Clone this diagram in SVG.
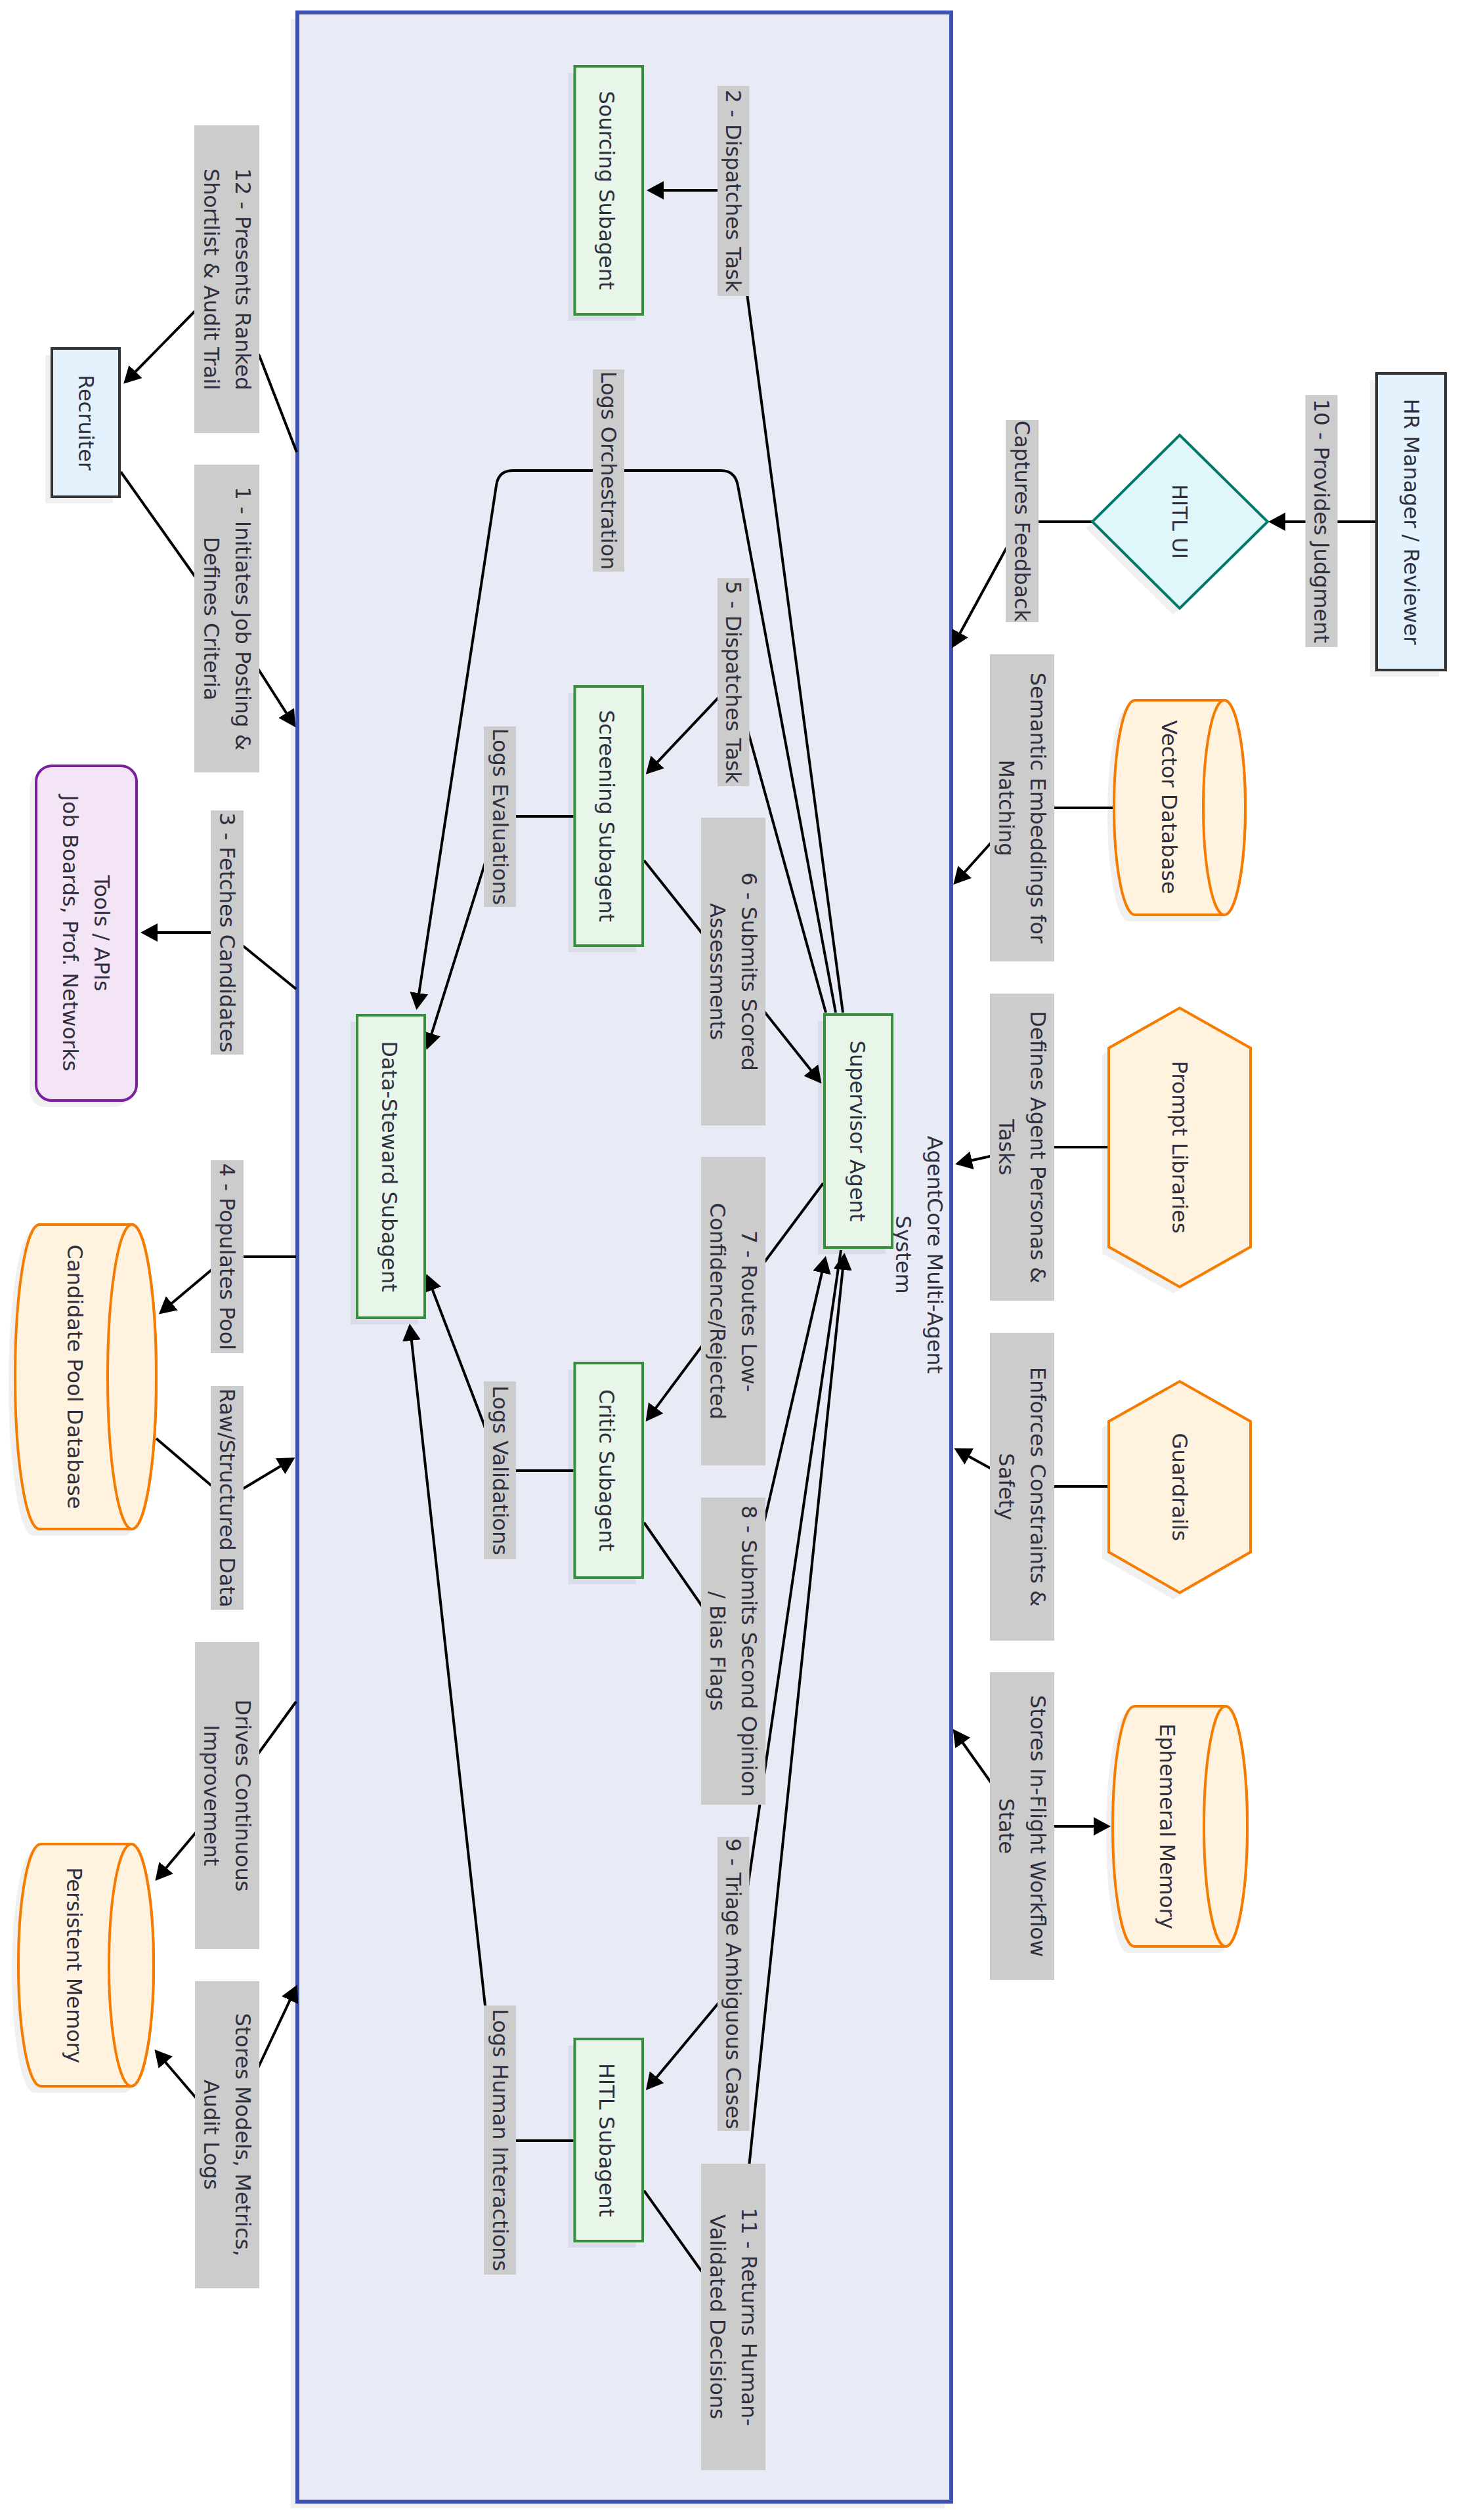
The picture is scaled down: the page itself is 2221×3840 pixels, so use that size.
<svg xmlns="http://www.w3.org/2000/svg" width="2221" height="3840" viewBox="0 0 2221 3840">
<style>
  text { font-family: "DejaVu Sans", Verdana, sans-serif; font-size: 32px; fill: #2f2f3f; text-anchor: middle; dominant-baseline: central; }
  .shadow { fill: #000; fill-opacity: 0.06; stroke: none; }
  .actor { fill: #E3F2FD; stroke: #333; stroke-width: 4; }
  .agent { fill: #E8F5E9; stroke: #388E3C; stroke-width: 4; }
  .store { fill: #FFF3E0; stroke: #F57C00; stroke-width: 4; }
  .ui { fill: #E0F7FA; stroke: #00796B; stroke-width: 4; }
  .tool { fill: #F3E5F5; stroke: #7B1FA2; stroke-width: 4; }
  .cluster { fill: #E8EAF6; stroke: #3F51B5; stroke-width: 6; }
  .edge { fill: none; stroke: #000; stroke-width: 4; }
  .lbl { fill: #CCCCCC; }
</style>
<defs>
  <marker id="arrow" markerUnits="userSpaceOnUse" markerWidth="26" markerHeight="28" viewBox="0 0 26 28" refX="22" refY="14" orient="auto-start-reverse">
    <path d="M0,0 L26,14 L0,28 z" fill="#000"/>
  </marker>
</defs>

<!-- container -->
<g id="agentcore">
  <rect class="shadow" x="443" y="29" width="996" height="3793"/>
  <rect class="cluster" x="453" y="19" width="996" height="3793"/>
  <text transform="rotate(90 1400 1912)" x="1400" y="1888">AgentCore Multi-Agent</text>
  <text transform="rotate(90 1400 1912)" x="1400" y="1936">System</text>
</g>

<!-- connectors -->
<g id="connectors">
  <path class="edge" d="M184,719 L296,877 L346,943 L395,1022 L448,1105" marker-end="url(#arrow)"/>
  <path class="edge" d="M452,689 L395,542 L345,470 L296,475 L191,582" marker-end="url(#arrow)"/>
  <path class="edge" d="M451,1507 L371,1442 L346,1421 L321,1421 L218,1421" marker-end="url(#arrow)"/>
  <path class="edge" d="M451,1915 L346,1915 L321,1936 L245,2000" marker-end="url(#arrow)"/>
  <path class="edge" d="M238,2192 L321,2263 L346,2270 L371,2268 L446,2223" marker-end="url(#arrow)"/>
  <path class="edge" d="M451,2593 L395,2670 L346,2736 L297,2794 L239,2863" marker-end="url(#arrow)"/>
  <path class="edge" d="M238,3126 L297,3195 L346,3250 L395,3147 L451,3028" marker-start="url(#arrow)" marker-end="url(#arrow)"/>

  <path class="edge" d="M2095,795 L1936,795" marker-end="url(#arrow)"/>
  <path class="edge" d="M1664,795 L1557,795 L1532,837 L1452,984" marker-end="url(#arrow)"/>
  <path class="edge" d="M1697,1231 L1557,1231 L1508,1286 L1455,1345" marker-end="url(#arrow)"/>
  <path class="edge" d="M1689,1748 L1557,1748 L1508,1762 L1459,1773" marker-end="url(#arrow)"/>
  <path class="edge" d="M1689,2265 L1557,2265 L1508,2237 L1457,2209" marker-end="url(#arrow)"/>
  <path class="edge" d="M1454,2638 L1508,2714 L1557,2783 L1688,2783" marker-start="url(#arrow)" marker-end="url(#arrow)"/>

  <path class="edge" d="M1284,1543 L1117,290 L989,290" marker-end="url(#arrow)"/>
  <path class="edge" d="M1258,1543 L1141.5,1122 L1117,1040 L1093,1064.5 L986.5,1177" marker-end="url(#arrow)"/>
  <path class="edge" d="M1273,1543 L1124,740 Q1120,717 1098,717 L781,717 Q759,717 756,740 L635,1535" marker-end="url(#arrow)"/>
  <path class="edge" d="M981,1311 L1249,1648" marker-end="url(#arrow)"/>
  <path class="edge" d="M1254,1803 L986,2163" marker-end="url(#arrow)"/>
  <path class="edge" d="M981,2320 L1085,2470 L1150,2380 L1257,1918" marker-end="url(#arrow)"/>
  <path class="edge" d="M1281,1905 L1141.5,2859 L1117,3023 L1093,3054 L986.5,3182" marker-end="url(#arrow)"/>
  <path class="edge" d="M981,3338 L1068,3460 L1117,3500 L1141.5,3297 L1286,1913" marker-end="url(#arrow)"/>
  <path class="edge" d="M873.5,1244 L761,1244 L737,1321 L651,1596" marker-end="url(#arrow)"/>
  <path class="edge" d="M873.5,2241 L761,2241 L737,2170 L651,1945" marker-end="url(#arrow)"/>
  <path class="edge" d="M873.5,3262 L761,3262 L739,3056 L624.5,2021" marker-end="url(#arrow)"/>
</g>

<!-- edge labels -->
<g id="edge-labels">
  <rect class="lbl" x="1988.5" y="602" width="49" height="384"/>
  <text transform="rotate(90 2013 794)" x="2013" y="794">10 - Provides Judgment</text>
  <rect class="lbl" x="1532" y="640" width="50" height="308"/>
  <text transform="rotate(90 1557 794)" x="1557" y="794">Captures Feedback</text>
  <rect class="lbl" x="1508" y="997" width="98" height="468"/>
  <text transform="rotate(90 1557 1231)" x="1557" y="1207">Semantic Embeddings for</text>
  <text transform="rotate(90 1557 1231)" x="1557" y="1255">Matching</text>
  <rect class="lbl" x="1508" y="1514" width="98" height="468"/>
  <text transform="rotate(90 1557 1748)" x="1557" y="1724">Defines Agent Personas &amp;</text>
  <text transform="rotate(90 1557 1748)" x="1557" y="1772">Tasks</text>
  <rect class="lbl" x="1508" y="2031" width="98" height="469"/>
  <text transform="rotate(90 1557 2265.5)" x="1557" y="2241.5">Enforces Constraints &amp;</text>
  <text transform="rotate(90 1557 2265.5)" x="1557" y="2289.5">Safety</text>
  <rect class="lbl" x="1508" y="2548" width="98" height="469"/>
  <text transform="rotate(90 1557 2782.5)" x="1557" y="2758.5">Stores In-Flight Workflow</text>
  <text transform="rotate(90 1557 2782.5)" x="1557" y="2806.5">State</text>

  <rect class="lbl" x="296" y="191" width="99" height="469"/>
  <text transform="rotate(90 345.5 425.5)" x="345.5" y="401.5">12 - Presents Ranked</text>
  <text transform="rotate(90 345.5 425.5)" x="345.5" y="449.5">Shortlist &amp; Audit Trail</text>
  <rect class="lbl" x="296" y="708" width="99" height="469"/>
  <text transform="rotate(90 345.5 942.5)" x="345.5" y="918.5">1 - Initiates Job Posting &amp;</text>
  <text transform="rotate(90 345.5 942.5)" x="345.5" y="966.5">Defines Criteria</text>
  <rect class="lbl" x="321" y="1235" width="50" height="372"/>
  <text transform="rotate(90 346 1421)" x="346" y="1421">3 - Fetches Candidates</text>
  <rect class="lbl" x="321" y="1768" width="50" height="294"/>
  <text transform="rotate(90 346 1915)" x="346" y="1915">4 - Populates Pool</text>
  <rect class="lbl" x="321" y="2112" width="50" height="341"/>
  <text transform="rotate(90 346 2282.5)" x="346" y="2282.5">Raw/Structured Data</text>
  <rect class="lbl" x="297" y="2502" width="98" height="468"/>
  <text transform="rotate(90 346 2736)" x="346" y="2712">Drives Continuous</text>
  <text transform="rotate(90 346 2736)" x="346" y="2760">Improvement</text>
  <rect class="lbl" x="297" y="3019" width="98" height="468"/>
  <text transform="rotate(90 346 3253)" x="346" y="3229">Stores Models, Metrics,</text>
  <text transform="rotate(90 346 3253)" x="346" y="3277">Audit Logs</text>

  <rect class="lbl" x="1093" y="131" width="48.5" height="320"/>
  <text transform="rotate(90 1117 291)" x="1117" y="291">2 - Dispatches Task</text>
  <rect class="lbl" x="903" y="563" width="48" height="308"/>
  <text transform="rotate(90 927 717)" x="927" y="717">Logs Orchestration</text>
  <rect class="lbl" x="1093" y="881" width="48.5" height="317"/>
  <text transform="rotate(90 1117 1039.5)" x="1117" y="1039.5">5 - Dispatches Task</text>
  <rect class="lbl" x="737" y="1107" width="49" height="275"/>
  <text transform="rotate(90 761.5 1244.5)" x="761.5" y="1244.5">Logs Evaluations</text>
  <rect class="lbl" x="1068" y="1246" width="98" height="469"/>
  <text transform="rotate(90 1117 1480.5)" x="1117" y="1456.5">6 - Submits Scored</text>
  <text transform="rotate(90 1117 1480.5)" x="1117" y="1504.5">Assessments</text>
  <rect class="lbl" x="1068" y="1763" width="98" height="470"/>
  <text transform="rotate(90 1117 1998)" x="1117" y="1974">7 - Routes Low-</text>
  <text transform="rotate(90 1117 1998)" x="1117" y="2022">Confidence/Rejected</text>
  <rect class="lbl" x="737" y="2105" width="49" height="271"/>
  <text transform="rotate(90 761.5 2240.5)" x="761.5" y="2240.5">Logs Validations</text>
  <rect class="lbl" x="1068" y="2282" width="98" height="468"/>
  <text transform="rotate(90 1117 2516)" x="1117" y="2492">8 - Submits Second Opinion</text>
  <text transform="rotate(90 1117 2516)" x="1117" y="2540">/ Bias Flags</text>
  <rect class="lbl" x="1093" y="2799" width="48.5" height="448"/>
  <text transform="rotate(90 1117 3023)" x="1117" y="3023">9 - Triage Ambiguous Cases</text>
  <rect class="lbl" x="737" y="3056" width="49" height="410"/>
  <text transform="rotate(90 761.5 3261)" x="761.5" y="3261">Logs Human Interactions</text>
  <rect class="lbl" x="1068" y="3297" width="98" height="467"/>
  <text transform="rotate(90 1117 3530.5)" x="1117" y="3506.5">11 - Returns Human-</text>
  <text transform="rotate(90 1117 3530.5)" x="1117" y="3554.5">Validated Decisions</text>
</g>

<!-- nodes -->
<g id="recruiter">
  <rect class="shadow" x="69" y="541" width="103" height="226"/>
  <rect class="actor" x="79" y="531" width="103" height="226"/>
  <text transform="rotate(90 131 644)" x="131" y="644">Recruiter</text>
</g>
<g id="hr-manager">
  <rect class="shadow" x="2087" y="579" width="105" height="452"/>
  <rect class="actor" x="2097" y="569" width="105" height="452"/>
  <text transform="rotate(90 2149.5 795)" x="2149.5" y="795">HR Manager / Reviewer</text>
</g>
<g id="hitl-ui">
  <polygon class="shadow" points="1787,673 1921,805 1787,937 1654,805"/>
  <polygon class="ui" points="1797,663 1931,795 1797,927 1664,795"/>
  <text transform="rotate(90 1797 795)" x="1797" y="795">HITL UI</text>
</g>
<g id="vector-db">
  <path class="shadow" d="M1855,1077 L1719,1077 A32,163.5 0 0 0 1719,1404 L1855,1404 A32,163.5 0 0 0 1855,1077 Z"/>
  <path class="store" d="M1865,1067 L1729,1067 A32,163.5 0 0 0 1729,1394 L1865,1394 A32,163.5 0 0 0 1865,1067 Z"/>
  <ellipse class="store" cx="1865" cy="1230.5" rx="32" ry="163.5"/>
  <text transform="rotate(90 1781 1230)" x="1781" y="1230">Vector Database</text>
</g>
<g id="prompt-libraries">
  <polygon class="shadow" points="1787,1546 1895,1607 1895,1910 1787,1971 1679,1910 1679,1607"/>
  <polygon class="store" points="1797,1536 1905,1597 1905,1900 1797,1961 1689,1900 1689,1597"/>
  <text transform="rotate(90 1797 1748)" x="1797" y="1748">Prompt Libraries</text>
</g>
<g id="guardrails">
  <polygon class="shadow" points="1787,2115 1895,2176 1895,2375 1787,2437 1679,2375 1679,2176"/>
  <polygon class="store" points="1797,2105 1905,2166 1905,2365 1797,2427 1689,2365 1689,2166"/>
  <text transform="rotate(90 1797 2266)" x="1797" y="2266">Guardrails</text>
</g>
<g id="ephemeral-memory">
  <path class="shadow" d="M1857,2610 L1718,2610 A33,183 0 0 0 1718,2976 L1857,2976 A33,183 0 0 0 1857,2610 Z"/>
  <path class="store" d="M1867,2600 L1728,2600 A33,183 0 0 0 1728,2966 L1867,2966 A33,183 0 0 0 1867,2600 Z"/>
  <ellipse class="store" cx="1867" cy="2783" rx="33" ry="183"/>
  <text transform="rotate(90 1778 2783)" x="1778" y="2783">Ephemeral Memory</text>
</g>
<g id="tools-apis">
  <rect class="shadow" x="45" y="1177" width="153" height="510" rx="24" ry="24"/>
  <rect class="tool" x="55" y="1167" width="153" height="510" rx="24" ry="24"/>
  <text transform="rotate(90 131 1422)" x="131" y="1398">Tools / APIs</text>
  <text transform="rotate(90 131 1422)" x="131" y="1446">Job Boards, Prof. Networks</text>
</g>
<g id="candidate-pool-db">
  <path class="shadow" d="M191,1876 L50,1876 A37,232 0 0 0 50,2340 L191,2340 A37,232 0 0 0 191,1876 Z"/>
  <path class="store" d="M201,1866 L60,1866 A37,232 0 0 0 60,2330 L201,2330 A37,232 0 0 0 201,1866 Z"/>
  <ellipse class="store" cx="201" cy="2098" rx="37" ry="232"/>
  <text transform="rotate(90 114 2098)" x="114" y="2098">Candidate Pool Database</text>
</g>
<g id="persistent-memory">
  <path class="shadow" d="M190,2820 L52,2820 A34,184.5 0 0 0 52,3189 L190,3189 A34,184.5 0 0 0 190,2820 Z"/>
  <path class="store" d="M200,2810 L62,2810 A34,184.5 0 0 0 62,3179 L200,3179 A34,184.5 0 0 0 200,2810 Z"/>
  <ellipse class="store" cx="200" cy="2994.5" rx="34" ry="184.5"/>
  <text transform="rotate(90 113 2994.5)" x="113" y="2994.5">Persistent Memory</text>
</g>
<g id="sourcing-subagent">
  <rect class="shadow" x="865.5" y="111" width="103.5" height="378"/>
  <rect class="agent" x="875.5" y="101" width="103.5" height="378"/>
  <text transform="rotate(90 924 290)" x="924" y="290">Sourcing Subagent</text>
</g>
<g id="screening-subagent">
  <rect class="shadow" x="865.5" y="1056" width="103.5" height="395"/>
  <rect class="agent" x="875.5" y="1046" width="103.5" height="395"/>
  <text transform="rotate(90 924 1243.5)" x="924" y="1243.5">Screening Subagent</text>
</g>
<g id="critic-subagent">
  <rect class="shadow" x="865.5" y="2087" width="103.5" height="327"/>
  <rect class="agent" x="875.5" y="2077" width="103.5" height="327"/>
  <text transform="rotate(90 924 2240.5)" x="924" y="2240.5">Critic Subagent</text>
</g>
<g id="hitl-subagent">
  <rect class="shadow" x="865.5" y="3117" width="103.5" height="308"/>
  <rect class="agent" x="875.5" y="3107" width="103.5" height="308"/>
  <text transform="rotate(90 924 3261)" x="924" y="3261">HITL Subagent</text>
</g>
<g id="data-steward-subagent">
  <rect class="shadow" x="534" y="1557" width="103" height="461"/>
  <rect class="agent" x="544" y="1547" width="103" height="461"/>
  <text transform="rotate(90 593 1777.5)" x="593" y="1777.5">Data-Steward Subagent</text>
</g>
<g id="supervisor-agent">
  <rect class="shadow" x="1246" y="1556" width="103" height="355"/>
  <rect class="agent" x="1256" y="1546" width="103" height="355"/>
  <text transform="rotate(90 1306 1723.5)" x="1306" y="1723.5">Supervisor Agent</text>
</g>
</svg>
